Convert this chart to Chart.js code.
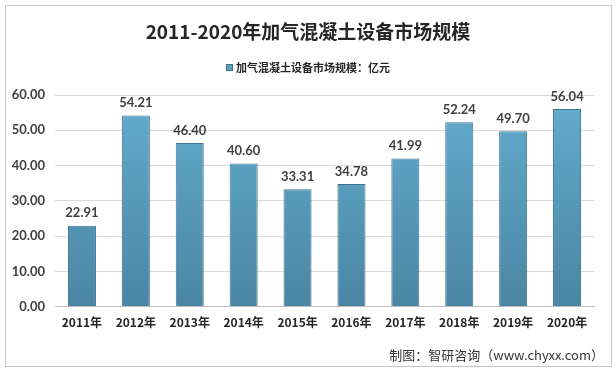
<!DOCTYPE html>
<html>
<head>
<meta charset="utf-8">
<script src="https://cdn.jsdelivr.net/npm/chart.js@4.4.0/dist/chart.umd.min.js"></script>
<style>
  html, body { margin: 0; padding: 0; background: #fff; }
  #wrap { width: 616px; height: 372px; position: relative; }
</style>
</head>
<body>
<div id="wrap"><canvas id="marketChart" width="616" height="372"></canvas></div>
<script>
// 数据
const years = ['2011年', '2012年', '2013年', '2014年', '2015年', '2016年', '2017年', '2018年', '2019年', '2020年'];
const marketSize = [22.91, 54.21, 46.40, 40.60, 33.31, 34.78, 41.99, 52.24, 49.70, 56.04];
const titleText = '2011-2020年加气混凝土设备市场规模';
const seriesName = '加气混凝土设备市场规模：亿元';
const sourceText = '制图：智研咨询（www.chyxx.com）';

const FONT = 'Lato, "Noto Sans CJK SC", sans-serif';
const CJK = '"Noto Sans CJK SC", sans-serif';

// title, legend, labels, footer, frame
const decorPlugin = {
    id: 'decor',
    afterDraw(chart) {
        const ctx = chart.ctx;
        ctx.save();

        // frame
        ctx.strokeStyle = '#c8c8c8';
        ctx.lineWidth = 1;
        ctx.strokeRect(5.5, 5.5, 606, 361);

        // title
        ctx.fillStyle = '#262626';
        ctx.font = 'bold 19px ' + CJK;
        ctx.textAlign = 'center';
        ctx.textBaseline = 'middle';
        ctx.fillText(titleText, 308, 32);

        // legend
        ctx.font = 'bold 11px ' + CJK;
        const tw = ctx.measureText(seriesName).width;
        const lx = 308 - (tw + 10) / 2;
        ctx.fillStyle = '#5a9dbd';
        ctx.fillRect(lx, 64, 7, 7);
        ctx.strokeStyle = '#3d7591';
        ctx.strokeRect(lx + 0.5, 64.5, 6, 6);
        ctx.fillStyle = '#262626';
        ctx.textAlign = 'left';
        ctx.fillText(seriesName, lx + 10, 68);

        // value labels
        const meta = chart.getDatasetMeta(0);
        ctx.font = 'bold 13px ' + FONT;
        ctx.fillStyle = '#404040';
        ctx.textAlign = 'center';
        ctx.textBaseline = 'bottom';
        meta.data.forEach((bar, i) => {
            ctx.fillText(marketSize[i].toFixed(2), bar.x, bar.y - 6);
        });

        // source
        ctx.font = '13px ' + CJK;
        ctx.fillStyle = '#333333';
        ctx.textAlign = 'right';
        ctx.textBaseline = 'middle';
        ctx.fillText(sourceText, 604, 355);

        ctx.restore();
    }
};

function barGradient(context) {
    const chart = context.chart;
    const area = chart.chartArea;
    if (!area) return '#5a9dbd';
    const g = chart.ctx.createLinearGradient(0, area.top, 0, area.bottom);
    g.addColorStop(0, '#64acce');
    g.addColorStop(1, '#4a86a3');
    return g;
}

new Chart(document.getElementById('marketChart').getContext('2d'), {
    type: 'bar',
    data: {
        labels: years,
        datasets: [{
            label: seriesName,
            data: marketSize,
            backgroundColor: barGradient,
            borderColor: '#3f7590',
            borderWidth: 1,
            categoryPercentage: 1,
            barPercentage: 0.52
        }]
    },
    options: {
        responsive: false,
        animation: false,
        layout: {
            padding: { top: 95, left: 12, right: 22, bottom: 41 }
        },
        plugins: {
            legend: { display: false },
            title: { display: false },
            tooltip: { enabled: false }
        },
        scales: {
            y: {
                min: 0,
                max: 60,
                afterFit(axis) { axis.width = 43; },
                ticks: {
                    stepSize: 10,
                    padding: 10,
                    color: '#404040',
                    font: { family: FONT, size: 13, weight: 'bold' },
                    callback: v => v.toFixed(2)
                },
                grid: { color: '#d9d9d9', drawTicks: false },
                border: { display: false }
            },
            x: {
                ticks: {
                    padding: 1,
                    color: '#262626',
                    font: { family: CJK, size: 12, weight: 'bold' }
                },
                grid: { display: false },
                border: { color: '#bfbfbf' }
            }
        }
    },
    plugins: [decorPlugin]
});
</script>
</body>
</html>
